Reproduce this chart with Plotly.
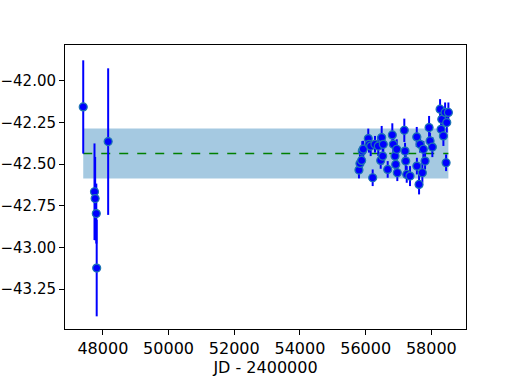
import plotly.graph_objects as go

# epochs (JD - 2400000)
jd = [47402, 47745, 47765, 47800, 47812, 48161,
      55796, 55826, 55878, 55897, 55927, 56080, 56101, 56153, 56214, 56284,
      56385, 56458, 56488, 56519, 56537, 56671, 56812, 56842, 56894, 56915,
      56946, 56964, 57177, 57199, 57220, 57251, 57351, 57556, 57560, 57626,
      57657, 57726, 57757, 57809, 57931, 57961, 58031, 58266, 58297, 58318,
      58367, 58419, 58449, 58470, 58519]

rv = [-42.157, -42.666, -42.707, -42.797, -43.124, -42.365,
      -42.536, -42.496, -42.478, -42.422, -42.410, -42.347, -42.381, -42.392, -42.582, -42.381,
      -42.392, -42.478, -42.341, -42.452, -42.381, -42.532, -42.325, -42.381, -42.452, -42.502,
      -42.411, -42.552, -42.297, -42.422, -42.482, -42.562, -42.572, -42.337, -42.512, -42.622,
      -42.381, -42.552, -42.411, -42.482, -42.281, -42.361, -42.398, -42.170, -42.291, -42.231,
      -42.331, -42.190, -42.492, -42.251, -42.190]

rv_err = [0.28, 0.29, 0.25, 0.18, 0.29, 0.44,
          0.05, 0.06, 0.05, 0.06, 0.05, 0.06, 0.05, 0.06, 0.05, 0.05,
          0.06, 0.05, 0.07, 0.05, 0.06, 0.05, 0.07, 0.05, 0.06, 0.05,
          0.06, 0.05, 0.07, 0.05, 0.06, 0.05, 0.06, 0.06, 0.05, 0.06,
          0.05, 0.06, 0.05, 0.05, 0.07, 0.05, 0.06, 0.06, 0.05, 0.07,
          0.06, 0.06, 0.05, 0.06, 0.06]

rv_mean = -42.437
rv_std = 0.15

x_band = [min(jd), max(jd)]

fig = go.Figure()

# +/- 1 sigma band
fig.add_trace(go.Scatter(x=x_band, y=[rv_mean - rv_std] * 2, mode='lines',
                         line=dict(width=0), showlegend=False, hoverinfo='skip'))
fig.add_trace(go.Scatter(x=x_band, y=[rv_mean + rv_std] * 2, mode='lines',
                         line=dict(width=0), fill='tonexty',
                         fillcolor='rgba(31,119,180,0.4)', showlegend=False, hoverinfo='skip'))

# mean
fig.add_trace(go.Scatter(x=x_band, y=[rv_mean] * 2, mode='lines',
                         line=dict(color='green', width=1.5, dash='dash'), showlegend=False))

# measurements
fig.add_trace(go.Scatter(
    x=jd, y=rv, mode='markers',
    marker=dict(color='blue', size=8, line=dict(color='#1f77b4', width=1.2)),
    error_y=dict(type='data', array=rv_err, color='blue', thickness=2, width=0),
    showlegend=False
))

font = dict(family='DejaVu Sans', size=16, color='black')
axis_style = dict(showline=True, linecolor='black', linewidth=1, mirror=True,
                  ticks='outside', ticklen=5, tickcolor='black', showgrid=False,
                  zeroline=False)

fig.update_xaxes(range=[46847, 59055], tickvals=[48000, 50000, 52000, 54000, 56000, 58000],
                 tickformat='d', tickfont=font,
                 title=dict(text='JD - 2400000', standoff=2, font=font),
                 **axis_style)
# a touch smaller so the minus signs stay inside the page
fig.update_yaxes(range=[-43.49, -41.785], tickvals=[-43.25, -43.0, -42.75, -42.5, -42.25, -42.0],
                 tickformat='.2f', tickfont=dict(font, size=15), **axis_style)

fig.update_layout(width=518, height=388, plot_bgcolor='white', paper_bgcolor='white',
                  margin=dict(l=65, r=52, t=45, b=59, autoexpand=False),
                  font=font)

# drop the browser's default body margin so the figure sits at the window corner
fig.write_html("out.html", config={'displayModeBar': False},
               post_script="document.body.style.margin = '0px';")
